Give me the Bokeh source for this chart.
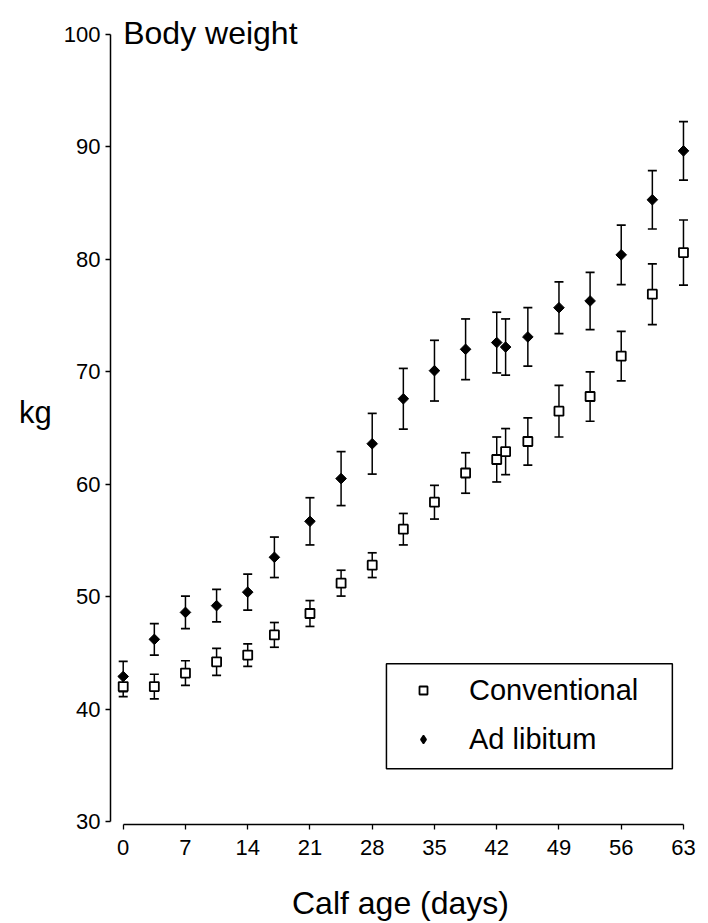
import math
from bokeh.plotting import figure
from bokeh.models import (ColumnDataSource, Whisker, TeeHead, Legend, LegendItem,
                          Label, Range1d, BoxAnnotation, FixedTicker)
from bokeh.embed import file_html
from bokeh.resources import INLINE

# ---------------- data ----------------
days = [0, 3.5, 7, 10.5, 14, 17, 21, 24.5, 28, 31.5, 35, 38.5, 42, 43, 45.5, 49, 52.5, 56, 59.5, 63]
conv_mean = [42.0, 42.0, 43.2, 44.2, 44.8, 46.6, 48.5, 51.2, 52.8, 56.0, 58.4, 61.0, 62.2, 62.9,
             63.8, 66.5, 67.8, 71.4, 76.9, 80.6]
conv_se = [0.9, 1.1, 1.1, 1.2, 1.0, 1.1, 1.15, 1.15, 1.1, 1.4, 1.5, 1.8, 2.0, 2.05,
           2.1, 2.3, 2.2, 2.2, 2.7, 2.9]
adlib_mean = [42.9, 46.2, 48.6, 49.2, 50.4, 53.5, 56.7, 60.5, 63.6, 67.6, 70.1, 72.0, 72.6, 72.2,
              73.1, 75.7, 76.3, 80.4, 85.3, 89.65]
adlib_se = [1.35, 1.4, 1.45, 1.45, 1.6, 1.8, 2.1, 2.4, 2.7, 2.7, 2.7, 2.7, 2.7, 2.5,
            2.6, 2.3, 2.55, 2.65, 2.6, 2.6]
x_ticks = [0, 7, 14, 21, 28, 35, 42, 49, 56, 63]
y_ticks = [30, 40, 50, 60, 70, 80, 90, 100]
series_labels = ["Conventional", "Ad libitum"]
title_text = "Body weight"
x_label = "Calf age (days)"
y_label = "kg"

FONT = "Liberation Sans"

src_c = ColumnDataSource(dict(x=days, y=conv_mean,
                              lo=[m - e for m, e in zip(conv_mean, conv_se)],
                              hi=[m + e for m, e in zip(conv_mean, conv_se)]))
src_a = ColumnDataSource(dict(x=days, y=adlib_mean,
                              lo=[m - e for m, e in zip(adlib_mean, adlib_se)],
                              hi=[m + e for m, e in zip(adlib_mean, adlib_se)]))

p = figure(width=708, height=923,
           x_range=Range1d(-1.429, 63.79), y_range=Range1d(29.734, 103.024),
           output_backend="svg", toolbar_location=None,
           min_border_left=110, min_border_right=18, min_border_top=0, min_border_bottom=99)
p.xgrid.visible = False
p.ygrid.visible = False
p.outline_line_color = None
p.background_fill_color = "white"
p.border_fill_color = "white"
# a range that places the legend-key renderer outside the frame (it is only drawn in the legend)
p.extra_x_ranges = {"key": Range1d(start=-1000, end=-999)}

# axes
for ax in (p.xaxis[0], p.yaxis[0]):
    ax.axis_line_color = "black"
    ax.axis_line_width = 1.5
    ax.major_tick_line_color = "black"
    ax.major_tick_line_width = 1.3
    ax.major_tick_in = 0
    ax.major_tick_out = 5
    ax.minor_tick_line_color = None
    ax.major_label_text_font = FONT
    ax.major_label_text_font_size = "22px"
    ax.major_label_text_color = "black"
    ax.axis_label_text_font = FONT
    ax.axis_label_text_font_style = "normal"
    ax.axis_label_text_color = "black"

p.xaxis.ticker = FixedTicker(ticks=x_ticks)
p.yaxis.ticker = FixedTicker(ticks=y_ticks)
p.xaxis.bounds = (x_ticks[0], x_ticks[-1])
p.yaxis.bounds = (y_ticks[0], y_ticks[-1])
p.xaxis.major_label_standoff = 10
p.yaxis.major_label_standoff = 5

p.xaxis.axis_label = x_label
p.xaxis.axis_label_text_font_size = "32px"
p.xaxis.axis_label_standoff = 27

p.yaxis.axis_label = y_label
p.yaxis.axis_label_text_font_size = "31px"
p.yaxis.axis_label_orientation = "horizontal"
p.yaxis.axis_label_standoff = 9

# error bars
for src in (src_a, src_c):
    w = Whisker(source=src, base="x", lower="lo", upper="hi",
                line_color="black", line_width=1.5,
                upper_head=TeeHead(size=9, line_color="black", line_width=1.7),
                lower_head=TeeHead(size=9, line_color="black", line_width=1.7),
                level="underlay")
    p.add_layout(w)

r_a = p.scatter("x", "y", source=src_a, marker="square", angle=math.pi / 4, size=7.5,
                fill_color="black", line_color="black", line_width=1)
r_c = p.scatter("x", "y", source=src_c, marker="square", size=9,
                fill_color="white", line_color="black", line_width=1.8)

# legend-only diamond key (legend glyphs ignore rotation); lies outside the frame
r_a_key = p.scatter("x", "y", source=src_a, x_range_name="key",
                    marker="diamond", fill_color="black", line_color="black", line_width=1.5)

# title
p.add_layout(Label(x=0, y=100, text=title_text, text_font=FONT, text_font_size="32px",
                   text_color="black", text_baseline="alphabetic", y_offset=1))

# legend frame + legend
p.add_layout(BoxAnnotation(left=29.6, right=61.75, bottom=34.69, top=44.03,
                           fill_alpha=0, line_color="black", line_alpha=1, line_width=1.5))
legend = Legend(items=[LegendItem(label=series_labels[0], renderers=[r_c]),
                       LegendItem(label=series_labels[1], renderers=[r_a_key])],
                location=(303, 67), padding=0, spacing=13,
                glyph_width=20, glyph_height=36, label_height=36, label_standoff=36,
                label_text_font=FONT, label_text_font_size="29px", label_text_color="black",
                border_line_alpha=0, background_fill_alpha=0)
p.add_layout(legend)

open("out.html", "w").write(file_html(p, INLINE))
